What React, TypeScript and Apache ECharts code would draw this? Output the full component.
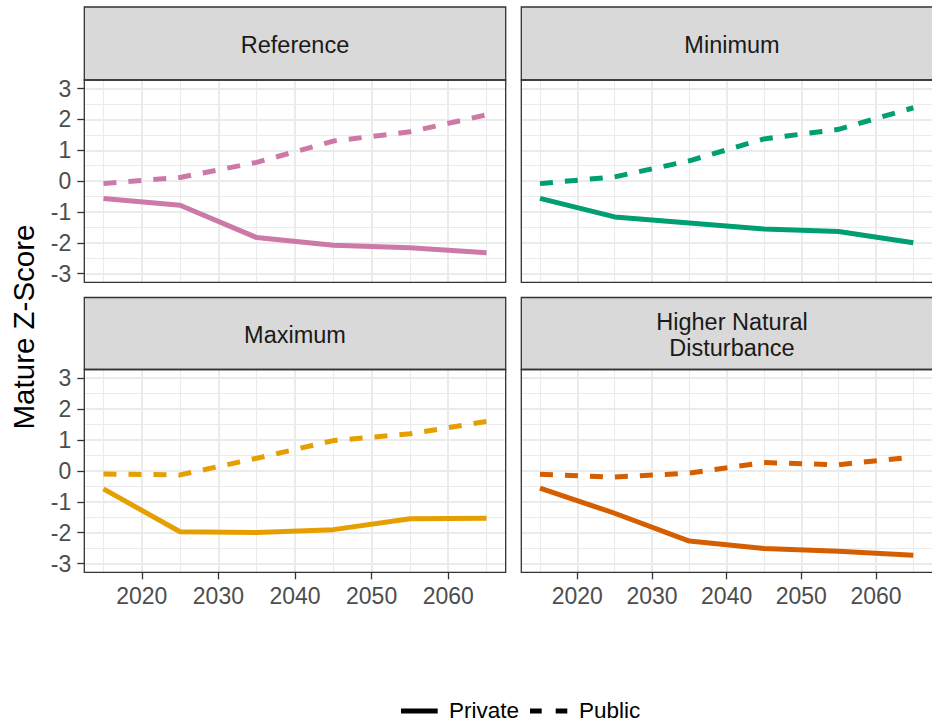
import React, { useEffect, useRef } from "react";
import * as echarts from "echarts";

// ---------- data ----------
const years = [2015, 2025, 2035, 2045, 2055, 2065];
const panelTitles = ["Reference", "Minimum", "Maximum", "Higher Natural\nDisturbance"];
const panelColors = ["#CC79A7", "#009E73", "#E69F00", "#D55E00"];

const referencePrivate = [-0.56, -0.78, -1.83, -2.08, -2.16, -2.32];
const referencePublic = [-0.08, 0.12, 0.61, 1.3, 1.6, 2.15];
const minimumPrivate = [-0.56, -1.16, -1.36, -1.55, -1.63, -2.0];
const minimumPublic = [-0.08, 0.14, 0.66, 1.37, 1.68, 2.38];
const maximumPrivate = [-0.58, -1.97, -1.99, -1.9, -1.55, -1.53];
const maximumPublic = [-0.1, -0.13, 0.41, 0.98, 1.2, 1.6];
const disturbancePrivate = [-0.56, -1.37, -2.27, -2.51, -2.6, -2.73];
const disturbancePublic = [-0.11, -0.2, -0.07, 0.27, 0.2, 0.45];

const privateSeries = [referencePrivate, minimumPrivate, maximumPrivate, disturbancePrivate];
const publicSeries = [referencePublic, minimumPublic, maximumPublic, disturbancePublic];

const xTicks = [2020, 2030, 2040, 2050, 2060];
const xMinorTicks = [2015, 2025, 2035, 2045, 2055, 2065];
const yTicks = [-3, -2, -1, 0, 1, 2, 3];
const yMinorTicks = [-2.5, -1.5, -0.5, 0.5, 1.5, 2.5];
const legendNames = ["Private", "Public"];
const yTitle = "Mature Z-Score";

// ---------- layout ----------
const FONT = "'Liberation Sans', Arial, sans-serif";
const X_MIN = 2012.5;
const X_MAX = 2067.5;
const Y_MIN = -3.28;
const Y_MAX = 3.28;
const colLeft = [84.3, 521.3];
const panelW = 421.4;
const rowTop = [80, 369.5];
const panelH = [202.3, 202.8];
const stripTop = [7, 297.5];
const PUBLIC_DASH = [13, 12];
const TICK_FONT = 23;
const STRIP_FONT = 23.5;
const LEGEND_FONT = 22.5;
const TITLE_FONT = 29.5;

export default function App() {
  const ref = useRef<HTMLDivElement | null>(null);

  useEffect(() => {
    if (!ref.current) return;
    const chart = echarts.init(ref.current, undefined, { renderer: "svg" });

    const grids: any[] = [];
    const xAxes: any[] = [];
    const yAxes: any[] = [];
    const series: any[] = [];
    const graphics: any[] = [];

    for (let i = 0; i < 4; i++) {
      const col = i % 2;
      const row = Math.floor(i / 2);
      grids.push({
        left: colLeft[col],
        top: rowTop[row],
        width: panelW,
        height: panelH[row],
        containLabel: false,
        show: true,
        backgroundColor: "#FFFFFF",
        borderWidth: 0,
      });
    }

    // major axes
    for (let i = 0; i < 4; i++) {
      const col = i % 2;
      const row = Math.floor(i / 2);
      xAxes.push({
        type: "value",
        gridIndex: i,
        min: X_MIN,
        max: X_MAX,
        position: "bottom",
        axisLine: { show: false, onZero: false },
        axisTick: {
          show: row === 1,
          customValues: xTicks,
          length: 7,
          lineStyle: { color: "#333333", width: 1.3 },
        },
        axisLabel: {
          show: row === 1,
          customValues: xTicks,
          margin: 12,
          fontSize: TICK_FONT,
          color: "#4D4D4D",
          fontFamily: FONT,
          formatter: (v: number) => String(v),
        },
        splitLine: { show: true, lineStyle: { color: "#EBEBEB", width: 2 } },
      });
      yAxes.push({
        type: "value",
        gridIndex: i,
        min: Y_MIN,
        max: Y_MAX,
        position: "left",
        axisLine: { show: false, onZero: false },
        axisTick: {
          show: col === 0,
          customValues: yTicks,
          length: 7,
          lineStyle: { color: "#333333", width: 1.3 },
        },
        axisLabel: {
          show: col === 0,
          customValues: yTicks,
          margin: 13,
          fontSize: TICK_FONT,
          color: "#4D4D4D",
          fontFamily: FONT,
          formatter: (v: number) => String(v),
        },
        splitLine: { show: true, lineStyle: { color: "#EBEBEB", width: 2 } },
      });
    }
    // minor axes (gridlines only)
    for (let i = 0; i < 4; i++) {
      xAxes.push({
        type: "value",
        gridIndex: i,
        min: X_MIN,
        max: X_MAX,
        position: "top",
        axisLine: { show: false, onZero: false },
        axisTick: { show: false, customValues: xMinorTicks },
        axisLabel: { show: false, customValues: xMinorTicks },
        splitLine: { show: true, lineStyle: { color: "#EBEBEB", width: 1.1 } },
      });
      yAxes.push({
        type: "value",
        gridIndex: i,
        min: Y_MIN,
        max: Y_MAX,
        position: "right",
        axisLine: { show: false, onZero: false },
        axisTick: { show: false, customValues: yMinorTicks },
        axisLabel: { show: false, customValues: yMinorTicks },
        splitLine: { show: true, lineStyle: { color: "#EBEBEB", width: 1.1 } },
      });
    }

    for (let i = 0; i < 4; i++) {
      series.push({
        name: legendNames[0],
        type: "line",
        xAxisIndex: i,
        yAxisIndex: i,
        data: years.map((yr, k) => [yr, privateSeries[i][k]]),
        symbol: "none",
        showSymbol: false,
        z: 5,
        lineStyle: { color: panelColors[i], width: 5, type: "solid", cap: "butt", join: "round" },
      });
      series.push({
        name: legendNames[1],
        type: "line",
        xAxisIndex: i,
        yAxisIndex: i,
        data: years.map((yr, k) => [yr, publicSeries[i][k]]),
        symbol: "none",
        showSymbol: false,
        z: 5,
        lineStyle: { color: panelColors[i], width: 5, type: PUBLIC_DASH, cap: "butt", join: "round" },
      });
    }

    // strips, borders
    for (let i = 0; i < 4; i++) {
      const col = i % 2;
      const row = Math.floor(i / 2);
      const sTop = stripTop[row];
      const sH = rowTop[row] - sTop;
      graphics.push({
        type: "rect",
        z: 100,
        shape: { x: colLeft[col], y: sTop, width: panelW, height: sH },
        style: { fill: "#D9D9D9", stroke: "#333333", lineWidth: 1.3 },
      });
      graphics.push({
        type: "text",
        z: 101,
        x: colLeft[col] + panelW / 2,
        y: sTop + sH / 2 + 1,
        style: {
          text: panelTitles[i],
          fontSize: STRIP_FONT,
          fontFamily: FONT,
          fill: "#1A1A1A",
          lineHeight: 26,
          align: "center",
          verticalAlign: "middle",
          textAlign: "center",
          textVerticalAlign: "middle",
        },
      });
      graphics.push({
        type: "rect",
        z: 100,
        shape: { x: colLeft[col], y: rowTop[row], width: panelW, height: panelH[row] },
        style: { fill: "none", stroke: "#333333", lineWidth: 1.3 },
      });
    }

    // y title
    graphics.push({
      type: "text",
      z: 100,
      x: 23,
      y: 327,
      rotation: Math.PI / 2,
      style: {
        text: yTitle,
        fontSize: TITLE_FONT,
        fontFamily: FONT,
        fill: "#000000",
        align: "center",
        verticalAlign: "middle",
        textAlign: "center",
        textVerticalAlign: "middle",
      },
    });

    // legend
    const legY = 710;
    graphics.push({
      type: "line",
      z: 100,
      shape: { x1: 401, y1: legY + 1, x2: 437.7, y2: legY + 1 },
      style: { stroke: "#000000", lineWidth: 5 },
    });
    graphics.push({
      type: "text",
      z: 100,
      x: 449,
      y: legY,
      style: {
        text: legendNames[0],
        fontSize: LEGEND_FONT,
        fontFamily: FONT,
        fill: "#000000",
        align: "left",
        verticalAlign: "middle",
        textAlign: "left",
        textVerticalAlign: "middle",
      },
    });
    graphics.push({
      type: "line",
      z: 100,
      shape: { x1: 530, y1: legY + 1, x2: 567.3, y2: legY + 1 },
      style: { stroke: "#000000", lineWidth: 5, lineDash: [11.7, 14] },
    });
    graphics.push({
      type: "text",
      z: 100,
      x: 579,
      y: legY,
      style: {
        text: legendNames[1],
        fontSize: LEGEND_FONT,
        fontFamily: FONT,
        fill: "#000000",
        align: "left",
        verticalAlign: "middle",
        textAlign: "left",
        textVerticalAlign: "middle",
      },
    });

    chart.setOption({
      animation: false,
      backgroundColor: "#FFFFFF",
      grid: grids,
      xAxis: xAxes,
      yAxis: yAxes,
      series,
      graphic: { elements: graphics },
    });

    return () => {
      chart.dispose();
    };
  }, []);

  return (
    <div
      ref={ref}
      style={{ position: "absolute", left: 0, top: 0, width: 932, height: 721 }}
    />
  );
}
